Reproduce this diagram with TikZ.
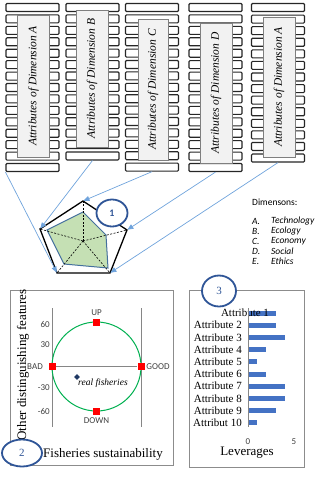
\documentclass[tikz,border=0pt]{standalone}
\usepackage{fontspec}
\setmainfont{Liberation Serif}
\newfontfamily\carlitofont{Carlito}
\usepackage{tikz}
\usetikzlibrary{arrows.meta,shapes.geometric}
\definecolor{ink}{HTML}{262626}
\definecolor{boxgray}{HTML}{7F7F7F}
\definecolor{boxfill}{HTML}{F2F2F2}
\definecolor{linkblue}{HTML}{6FA3DC}
\definecolor{badgeblue}{HTML}{2F5597}
\definecolor{radargreen}{HTML}{C5E0B4}
\definecolor{radaredge}{HTML}{44709D}
\definecolor{framegray}{HTML}{8C8C8C}
\definecolor{axisgray}{HTML}{868686}
\definecolor{circgreen}{HTML}{00B050}
\definecolor{levblue}{HTML}{4472C4}
\definecolor{fishblue}{HTML}{1F3864}
\definecolor{labgray}{HTML}{404040}
\tikzset{
  attrbar/.style={draw=ink,line width=1.1pt,rounded corners=1pt,fill=white,
                  minimum width=53pt,minimum height=8pt,inner sep=0pt},
  dimbox/.style={draw=boxgray,fill=boxfill,line width=0.8pt,rotate=90,
                 minimum height=32pt,inner sep=0pt,
                 font=\fontsize{11.5}{12}\selectfont\itshape},
  legend/.style={anchor=west,inner sep=0pt,
                 font=\carlitofont\fontsize{9.5}{10}\selectfont},
  radar/.style={draw=black,line width=1.3pt},
  spoke/.style={draw=black,line width=0.6pt,dash pattern=on 2pt off 1.5pt},
  datapoly/.style={draw=radaredge,fill=radargreen,line width=1pt},
  badge/.style={ellipse,draw=badgeblue,line width=1.8pt,fill=white,
                text=badgeblue,inner sep=0pt},
  linkarr/.style={-{Triangle[length=6pt,width=5pt]},draw=linkblue,
                  line width=0.7pt,shorten >=0.5pt},
  panel/.style={draw=framegray,line width=0.9pt,inner sep=0pt},
  axisline/.style={draw=axisgray,line width=0.9pt},
  gridlab/.style={font=\carlitofont\fontsize{9}{10}\selectfont,
                  text=labgray,inner sep=1pt},
  marker/.style={fill=red,minimum size=7pt,inner sep=0pt},
  attrlab/.style={anchor=east,inner sep=0pt,font=\fontsize{11}{12}\selectfont},
  levbar/.style={fill=levblue},
  axistitle/.style={font=\fontsize{13}{14}\selectfont,inner sep=0pt}
}
\begin{document}
\begin{tikzpicture}[x=1pt,y=-1pt]
  \useasboundingbox (0,0) rectangle (320,480);
  % attribute stacks
  \foreach \c/\cx/\n/\pitch in {1/32.5/15/11.43,2/92.5/14/11.42,
      3/152/15/11.4,4/215.5/15/11.43,5/278/14/11.58}
    \foreach \i in {1,...,\n}
      \node[attrbar] (col\c-\i) at (\cx,{7.5+(\i-1)*\pitch}) {};
  \node[dimbox,minimum width=142pt] (dimA) at (33.5,86) {Attributes of Dimension A};
  \node[dimbox,minimum width=137pt] (dimB) at (92,78.5) {Attributes of Dimension B};
  \node[dimbox,minimum width=141pt,minimum height=30pt] (dimC) at (153,89.5)
    {Attributes of Dimension C};
  \node[dimbox,minimum width=140pt] (dimD) at (216,93) {Attributes of Dimension D};
  \node[dimbox,minimum width=140pt] (dimE) at (279,87) {Attributes of Dimension A};

  % legend
  \node[legend] (dimtitle) at (252,202) {Dimensons:};
  \foreach \k/\name/\y in {A/Technology/221,B/Ecology/231,C/Economy/241,
      D/Social/251,E/Ethics/261} {
    \node[legend,font=\carlitofont\itshape\fontsize{9.5}{10}\selectfont] (key\k) at (252,\y) {\k.};
    \node[legend,font=\carlitofont\itshape\fontsize{9.5}{10}\selectfont] (item\k) at (271,\y) {\name};
  }

  % radar
  \coordinate (pc) at (83,241);
  \coordinate (ptop) at (83,201);
  \coordinate (pleft) at (40,229);
  \coordinate (pbotleft) at (57,273);
  \coordinate (pbotright) at (110,273);
  \coordinate (pright) at (127,230);
  \draw[datapoly] (83,212) -- (47,230) -- (64,264) -- (108,268) -- (106,235) -- cycle;
  \foreach \v in {ptop,pleft,pbotleft,pbotright,pright}
    \draw[spoke] (pc) -- (\v);
  \draw[radar] (ptop) -- (pleft) -- (pbotleft) -- (pbotright) -- (pright) -- cycle;
  \node[badge,minimum width=31pt,minimum height=27pt,
        font=\carlitofont\bfseries\fontsize{10}{10}\selectfont] (badge1) at (112,213) {1};

  \draw[linkarr] (col1-15.south west) -- (pbotleft);
  \draw[linkarr] (col2-14.south) -- (pleft);
  \draw[linkarr] (col3-15.south) -- (ptop);
  \draw[linkarr] (col4-15.south) -- (pright);
  \draw[linkarr] (col5-14.south) -- (pbotright);

  % sustainability panel
  \node[panel,minimum width=163pt,minimum height=175pt] (fishpanel) at (91.5,377.5) {};
  \node[axistitle,rotate=90] (ylab) at (23,365) {Other distinguishing features};
  \draw[axisline] (52,308) -- (52,427);
  \draw[axisline] (141,308) -- (141,427);
  \draw[circgreen,line width=1pt] (96.5,366.5) circle (44.5);
  \node[marker] (bad) at (52,366.5) {};
  \node[marker] (good) at (141,366.5) {};
  \draw[axisline] (bad) -- (good);
  \node[marker] (up) at (96.5,322) {};
  \node[marker] (down) at (96.5,411) {};
  \node[gridlab] (uplab) at (96.5,313) {UP};
  \node[gridlab] (downlab) at (96.5,421) {DOWN};
  \node[gridlab] (badlab) at (35,366.5) {BAD};
  \node[gridlab] (goodlab) at (158,366.5) {GOOD};
  \foreach \t/\y in {60/324,30/345,-30/388,-60/411}
    \node[gridlab,anchor=east,inner sep=0pt] (tick\y) at (50,\y) {\t};
  \node[diamond,fill=fishblue,minimum size=6pt,inner sep=0pt] (real) at (77,377) {};
  \node[anchor=west,inner sep=1pt,font=\fontsize{9.5}{10}\selectfont\itshape]
    (reallab) at (77,383.5) {real fisheries};
  \node[axistitle] (xlab) at (103,454) {Fisheries sustainability};
  \node[badge,minimum width=40pt,minimum height=27pt,
        font=\fontsize{11}{11}\selectfont] (badge2) at (22,453) {2};

  % leverage panel
  \node[panel,minimum width=115pt,minimum height=177pt] (levpanel) at (246.5,378.5) {};
  \foreach \i/\v in {1/3,2/3,3/4,4/2,5/1,6/2,7/4,8/4,9/3,10/1}
    \fill[levbar] (248,{313+(\i-1)*12.2-2.5}) rectangle ({248+\v*9.2},{313+(\i-1)*12.2+2.5});
  \node[inner sep=0pt,font=\fontsize{11}{12}\selectfont] (att1) at (245,313) {Attribute 1};
  \foreach \i in {2,...,9}
    \node[attrlab] (att\i) at (242,{313+(\i-1)*12.2}) {Attribute \i};
  \node[attrlab] (att10) at (242,{313+9*12.2}) {Attribut 10};
  \draw[axisline] (248,308) -- (248,427);
  \node[gridlab] (zero) at (248,442) {0};
  \node[gridlab] (five) at (294,442) {5};
  \node[axistitle] (levlab) at (247,453) {Leverages};
  \node[badge,minimum width=34pt,minimum height=31pt,
        font=\fontsize{11}{11}\selectfont] (badge3) at (219,291) {3};
\end{tikzpicture}
\end{document}
